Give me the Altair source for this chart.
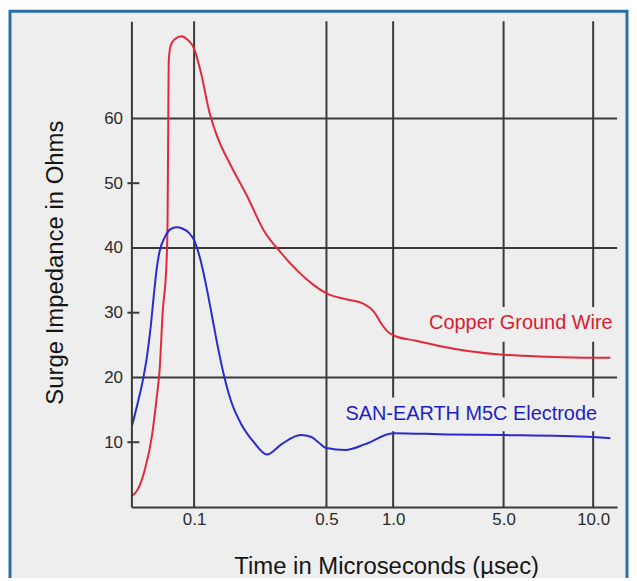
import altair as alt
import pandas as pd

# ---- data ----
COPPER_T = [0.0484, 0.0519, 0.0562, 0.0610, 0.0646, 0.0668, 0.0692, 0.0724, 0.0733,
            0.0740, 0.0743, 0.0759, 0.0794, 0.0861, 0.0923, 0.100, 0.1088, 0.1199,
            0.1321, 0.1565, 0.1899, 0.2333, 0.2867, 0.356, 0.427, 0.500, 0.628,
            0.733, 0.821, 0.893, 0.950, 1.029, 1.376, 1.92, 2.966, 5.0, 7.02, 10.0, 11.4]
COPPER_V = [1.7, 2.8, 5.8, 10.9, 17.0, 21.2, 30.0, 37.7, 44.3,
            62.7, 68.8, 71.2, 72.2, 72.7, 72.2, 70.8, 67.0, 61.2,
            57.3, 52.7, 48.1, 42.7, 39.3, 36.3, 34.3, 33.0, 32.0,
            31.4, 30.1, 28.1, 27.0, 26.4, 25.7, 24.9, 24.1, 23.5, 23.2, 23.05, 23.05]

SAN_T = [0.0484, 0.0519, 0.0550, 0.0575, 0.0603, 0.0624, 0.0646, 0.0668, 0.0708,
         0.0759, 0.0813, 0.0871, 0.0944, 0.100, 0.1075, 0.1156, 0.1243, 0.1337,
         0.1438, 0.1565, 0.1766, 0.2067, 0.2421, 0.290, 0.365, 0.4166, 0.453,
         0.500, 0.609, 0.748, 1.0, 2.219, 5.0, 10.0, 11.4]
SAN_V = [12.6, 16.3, 19.7, 23.1, 28.1, 32.7, 36.9, 39.5, 41.6,
         42.9, 43.2, 43.0, 42.3, 41.2, 38.4, 34.3, 29.5, 24.6,
         20.3, 16.4, 12.9, 10.0, 8.1, 9.7, 11.1, 10.8, 10.0,
         9.1, 8.8, 9.7, 11.4, 11.2, 11.1, 10.8, 10.6]

X_TICKS = [0.1, 0.5, 1.0, 5.0, 10.0]
Y_TICKS = [10, 20, 30, 40, 50, 60]
Y_GRID = [20, 40, 60]
Y_SHORT = [10, 30, 50]

LABELS = ["Copper Ground Wire", "SAN-EARTH M5C Electrode"]
LABEL_T = [11.6, 10.3]
LABEL_V = [28.4, 14.3]
LABEL_COLORS = ["#d8202f", "#1f1fc0"]
# label background boxes (data units)
BOX_T1 = [1.61, 0.615]
BOX_T2 = [12.0, 10.8]
BOX_V1 = [25.5, 11.7]
BOX_V2 = [30.9, 16.9]

# ---- scales ----
W, H = 488, 488
x_scale = alt.Scale(type="log", domain=[0.048, 0.1, 0.5, 1, 5, 10, 12],
                    range=[0, 63, 196, 263, 374, 464, 488], nice=False)
y_scale = alt.Scale(domain=[0, 75], nice=False, zero=True)

FONT = "Liberation Sans"
LINE_C = "#3a3a3a"

x_axis = alt.Axis(values=X_TICKS, format=".1f", grid=False, ticks=False, tickSize=0,
                  domainColor=LINE_C, domainWidth=2, labelFontSize=17, labelColor="#2a2a2a",
                  labelPadding=5, labelOverlap=False, labelFlush=False, zindex=2,
                  title="Time in Microseconds (µsec)", titleFontSize=24,
                  titleFontWeight="normal", titleColor="#151515",
                  titleX=256, titleY=60, titleAlign="center", titleBaseline="middle")
y_axis = alt.Axis(values=Y_TICKS, grid=False, ticks=False, tickSize=0,
                  domainColor=LINE_C, domainWidth=2, labelFontSize=17, labelColor="#2a2a2a",
                  labelPadding=9, labelOverlap=False, labelFlush=False, zindex=2,
                  title="Surge Impedance in Ohms", titleFontSize=24,
                  titleFontWeight="normal", titleColor="#151515", titleAngle=-90,
                  titleX=-76, titleY=242, titleAlign="center", titleBaseline="middle")


def X(field):
    return alt.X(field, type="quantitative", scale=x_scale, axis=x_axis)


def Y(field):
    return alt.Y(field, type="quantitative", scale=y_scale, axis=y_axis)


frame = alt.Chart(pd.DataFrame({"a": [0]})).mark_rect(
    fill="#eeeeee", stroke="#2a6ea6", strokeWidth=3
).encode(x=alt.value(-122), x2=alt.value(498), y=alt.value(-10), y2=alt.value(700))

hgrid = alt.Chart(pd.DataFrame({"v": Y_GRID})).mark_rule(
    color=LINE_C, strokeWidth=2
).encode(y=Y("v"), x=alt.value(0), x2=alt.value(W))

short = alt.Chart(pd.DataFrame({"v": Y_SHORT})).mark_rule(
    color=LINE_C, strokeWidth=2
).encode(y=Y("v"), x=alt.value(-4), x2=alt.value(8))

vgrid = alt.Chart(pd.DataFrame({"t": X_TICKS})).mark_rule(
    color=LINE_C, strokeWidth=2
).encode(x=X("t"), y=alt.value(0), y2=alt.value(H))

boxes = alt.Chart(pd.DataFrame({"t1": BOX_T1, "t2": BOX_T2, "v1": BOX_V1, "v2": BOX_V2})).mark_rect(
    fill="#eeeeee"
).encode(x=X("t1"), x2="t2", y=Y("v1"), y2="v2")

copper = alt.Chart(pd.DataFrame({"t": COPPER_T, "v": COPPER_V})).mark_line(
    color="#e02a3c", strokeWidth=2, interpolate="monotone"
).encode(x=X("t"), y=Y("v"))

san = alt.Chart(pd.DataFrame({"t": SAN_T, "v": SAN_V})).mark_line(
    color="#2a2ad0", strokeWidth=2, interpolate="monotone"
).encode(x=X("t"), y=Y("v"))

labels = alt.Chart(pd.DataFrame({"t": LABEL_T, "v": LABEL_V, "label": LABELS, "c": LABEL_COLORS})).mark_text(
    align="right", baseline="middle", fontSize=20, font=FONT
).encode(x=X("t"), y=Y("v"), text="label:N", color=alt.Color("c:N", scale=None))

chart = alt.layer(frame, hgrid, short, vgrid, boxes, copper, san, labels).properties(
    width=W, height=H,
    autosize=alt.AutoSizeParams(type="none"),
    padding={"left": 124, "top": 12, "right": 12, "bottom": 70},
    background="white",
).configure_view(stroke=None).configure_axis(labelFont=FONT, titleFont=FONT)

chart.save("out.html", embed_options={"renderer": "svg", "actions": False})
